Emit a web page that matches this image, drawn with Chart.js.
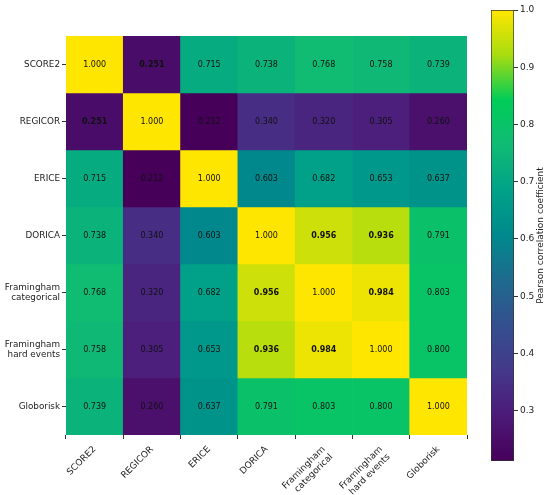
<!DOCTYPE html>
<html>
<head>
<meta charset="utf-8">
<script src="https://cdn.jsdelivr.net/npm/chart.js@4"></script>
<style>
  body { margin: 0; background: #fff; }
  #wrap { position: relative; width: 550px; height: 495px; }
  canvas { position: absolute; top: 0; }
</style>
</head>
<body>
<div id="wrap">
  <canvas id="heatmap" width="480" height="495" style="left:0;width:480px;height:495px"></canvas>
  <canvas id="colorbar" width="80" height="495" style="left:470px;width:80px;height:495px"></canvas>
</div>
<script>
const colLabels = ["SCORE2", "REGICOR", "ERICE", "DORICA",
  ["Framingham", "categorical"], ["Framingham", "hard events"], "Globorisk"];
const rowLabels = ["SCORE2", "REGICOR", "ERICE", "DORICA",
  ["Framingham", "categorical"], ["Framingham", "hard events"], "Globorisk"];

const rowScore2 = [1.000, 0.251, 0.715, 0.738, 0.768, 0.758, 0.739];
const rowRegicor = [0.251, 1.000, 0.212, 0.340, 0.320, 0.305, 0.260];
const rowErice = [0.715, 0.212, 1.000, 0.603, 0.682, 0.653, 0.637];
const rowDorica = [0.738, 0.340, 0.603, 1.000, 0.956, 0.936, 0.791];
const rowFramCat = [0.768, 0.320, 0.682, 0.956, 1.000, 0.984, 0.803];
const rowFramHard = [0.758, 0.305, 0.653, 0.936, 0.984, 1.000, 0.800];
const rowGloborisk = [0.739, 0.260, 0.637, 0.791, 0.803, 0.800, 1.000];
const matrix = [rowScore2, rowRegicor, rowErice, rowDorica, rowFramCat, rowFramHard, rowGloborisk];

// cells whose value is printed in bold
const boldCells = ["0,1", "1,0", "3,4", "3,5", "4,3", "4,5", "5,3", "5,4"];

const colorbarTicks = [0.3, 0.4, 0.5, 0.6, 0.7, 0.8, 0.9, 1.0];

const FONT = "'DejaVu Sans', sans-serif";
const TEXT = "#222";

// viridis-like stops (a bit more saturated, like the picture)
const stops = ["#46005a", "#4c1a78", "#44388a", "#344f8e", "#1f6a8e", "#00898c",
  "#00a288", "#10bb74", "#00cc58", "#a8dc10", "#ffe600"];

const allValues = matrix.flat();
const vmin = Math.min(...allValues);
const vmax = Math.max(...allValues);

function hexToRgb(h) {
  return [parseInt(h.slice(1, 3), 16), parseInt(h.slice(3, 5), 16), parseInt(h.slice(5, 7), 16)];
}

function viridis(v) {
  let t = (v - vmin) / (vmax - vmin);
  t = Math.max(0, Math.min(1, t)) * (stops.length - 1);
  const k = Math.min(Math.floor(t), stops.length - 2);
  const f = t - k;
  const a = hexToRgb(stops[k]);
  const b = hexToRgb(stops[k + 1]);
  const c = a.map((x, i) => Math.round(x + (b[i] - x) * f));
  return `rgb(${c[0]},${c[1]},${c[2]})`;
}

// writes the value in the middle of each cell
const cellText = {
  id: "cellText",
  afterDatasetsDraw(chart) {
    const ctx = chart.ctx;
    ctx.save();
    ctx.textAlign = "center";
    ctx.textBaseline = "middle";
    ctx.fillStyle = "#111";
    chart.data.datasets.forEach((ds, i) => {
      chart.getDatasetMeta(i).data.forEach((bar, j) => {
        const bold = boldCells.includes(i + "," + j);
        ctx.font = (bold ? "bold " : "") + "8px " + FONT;
        ctx.fillText(matrix[i][j].toFixed(3), bar.x, (bar.y + bar.base) / 2);
      });
    });
    ctx.restore();
  },
};

new Chart(document.getElementById("heatmap").getContext("2d"), {
  type: "bar",
  data: {
    labels: colLabels,
    datasets: matrix.map((row, i) => ({
      data: row.map(() => [i - 0.5, i + 0.5]),
      backgroundColor: row.map((v) => viridis(v)),
      borderWidth: 0,
      barPercentage: 1,
      categoryPercentage: 1,
      grouped: false,
    })),
  },
  options: {
    responsive: false,
    animation: false,
    layout: { padding: { left: 0, top: 36, right: 13, bottom: 0 } },
    plugins: { legend: { display: false }, tooltip: { enabled: false } },
    scales: {
      x: {
        grid: { drawOnChartArea: false, drawTicks: true, tickLength: 4, color: "#333" },
        border: { display: false },
        ticks: { maxRotation: 45, minRotation: 45, color: TEXT, font: { family: FONT, size: 9 }, padding: 5 },
        afterFit: (s) => { s.height = 60; },
      },
      y: {
        type: "linear",
        min: -0.5,
        max: 6.5,
        reverse: true,
        afterBuildTicks: (s) => { s.ticks = rowLabels.map((_, i) => ({ value: i })); },
        grid: { drawOnChartArea: false, drawTicks: true, tickLength: 4, color: "#333" },
        border: { display: false },
        ticks: {
          callback: (v) => rowLabels[v],
          color: TEXT,
          font: { family: FONT, size: 8.8 },
          padding: 2,
        },
        afterFit: (s) => { s.width = 66; },
      },
    },
  },
  plugins: [cellText],
});

// vertical title on the colorbar, reading bottom to top
const colorbarTitle = {
  id: "colorbarTitle",
  afterDraw(chart) {
    const ctx = chart.ctx;
    const area = chart.chartArea;
    ctx.save();
    ctx.translate(71, (area.top + area.bottom) / 2);
    ctx.rotate(-Math.PI / 2);
    ctx.textAlign = "center";
    ctx.textBaseline = "middle";
    ctx.fillStyle = TEXT;
    ctx.font = "9px " + FONT;
    ctx.fillText("Pearson correlation coefficient", 0, 0);
    ctx.restore();
  },
};

new Chart(document.getElementById("colorbar").getContext("2d"), {
  type: "bar",
  data: {
    labels: [""],
    datasets: [{
      data: [[vmin, vmax]],
      backgroundColor: (c) => {
        const ch = c.chart;
        if (!ch.chartArea) return null;
        const y = ch.scales.y;
        const g = ch.ctx.createLinearGradient(0, y.getPixelForValue(vmin), 0, y.getPixelForValue(vmax));
        stops.forEach((col, k) => g.addColorStop(k / (stops.length - 1), col));
        return g;
      },
      borderColor: "#333",
      borderWidth: 1,
      borderSkipped: false,
      barPercentage: 1,
      categoryPercentage: 1,
    }],
  },
  options: {
    responsive: false,
    animation: false,
    layout: { padding: { left: 21, top: 10, right: 0, bottom: 34 } },
    plugins: { legend: { display: false }, tooltip: { enabled: false } },
    scales: {
      x: { display: false },
      y: {
        position: "right",
        min: vmin,
        max: vmax,
        afterBuildTicks: (s) => { s.ticks = colorbarTicks.map((v) => ({ value: v })); },
        grid: { drawOnChartArea: false, drawTicks: true, tickLength: 4, color: "#333" },
        border: { display: false },
        ticks: {
          callback: (v) => v.toFixed(1),
          color: TEXT,
          font: { family: FONT, size: 9 },
          padding: 2,
        },
        afterFit: (s) => { s.width = 36; },
      },
    },
  },
  plugins: [colorbarTitle],
});
</script>
</body>
</html>
